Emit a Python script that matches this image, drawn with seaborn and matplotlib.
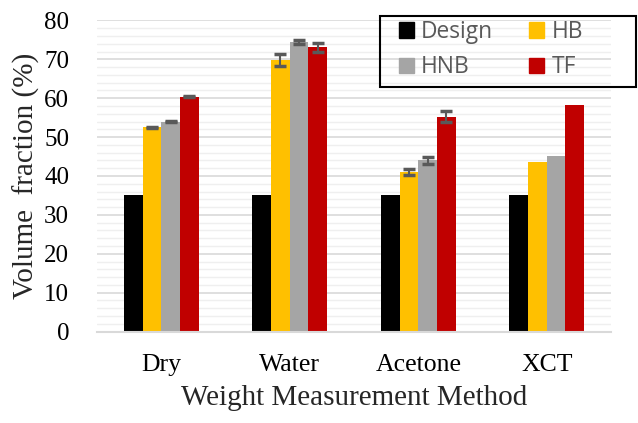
import pandas as pd
import matplotlib.pyplot as plt
import matplotlib.patches as mpatches
from matplotlib.ticker import MultipleLocator
import seaborn as sns

# data
methods = ["Dry", "Water", "Acetone", "XCT"]
series = ["Design", "HB", "HNB", "TF"]
design = [35, 35, 35, 35]
hb = [52.5, 69.8, 41.0, 43.5]
hnb = [54.0, 74.5, 44.0, 45.1]
tf = [60.4, 73.1, 55.3, 58.3]
hb_err = [0.2, 1.5, 0.7, 0]
hnb_err = [0.2, 0.6, 0.8, 0]
tf_err = [0.2, 1.1, 1.4, 0]
colors = ["#000000", "#FFC000", "#A5A5A5", "#C00000"]


def build_frame():
    rows = []
    for name, vals in zip(series, [design, hb, hnb, tf]):
        for m, v in zip(methods, vals):
            rows.append({"method": m, "series": name, "value": v})
    return pd.DataFrame(rows)


def main():
    df = build_frame()
    sns.set_style("white")

    W, H = 638, 423
    fig = plt.figure(figsize=(W / 100, H / 100), dpi=100)
    ax = fig.add_axes([97 / W, 91.5 / H, 514 / W, 311 / H])

    sns.barplot(data=df, x="method", y="value", hue="series",
                order=methods, hue_order=series, palette=colors,
                width=0.58, gap=0, linewidth=0, saturation=1,
                legend=False, ax=ax)

    # error bars on top of each bar container
    errs = [[0] * 4, hb_err, hnb_err, tf_err]
    vals = [design, hb, hnb, tf]
    for cont, v, e in zip(ax.containers, vals, errs):
        xs = [b.get_x() + b.get_width() / 2 for b in cont]
        xs_e = [x for x, er in zip(xs, e) if er > 0]
        vs_e = [y for y, er in zip(v, e) if er > 0]
        es = [er for er in e if er > 0]
        ax.errorbar(xs_e, vs_e, yerr=es, fmt="none", ecolor="#595959",
                    elinewidth=1.5, capsize=4.5, capthick=2.5, zorder=5)

    ax.set_xlim(-0.5, 3.5)
    ax.set_ylim(0, 80)
    ax.yaxis.set_major_locator(MultipleLocator(10))
    ax.yaxis.set_minor_locator(MultipleLocator(2))
    ax.grid(which="major", axis="y", color="#d9d9d9", linewidth=1.2)
    ax.grid(which="minor", axis="y", color="#efefef", linewidth=1.0)
    ax.set_axisbelow(True)
    for s in ["top", "right", "left"]:
        ax.spines[s].set_visible(False)
    ax.spines["bottom"].set_color("#d9d9d9")
    ax.spines["bottom"].set_linewidth(1.5)
    ax.tick_params(axis="both", which="both", length=0)

    serif = ["Liberation Serif", "DejaVu Serif"]
    ax.tick_params(axis="y", labelsize=18, pad=20)
    ax.tick_params(axis="x", labelsize=18.5, pad=16)
    for lab in ax.get_xticklabels() + ax.get_yticklabels():
        lab.set_family(serif)
        lab.set_color("#000000")

    ax.set_xlabel("Weight Measurement Method", fontsize=21, family=serif,
                  labelpad=7)
    ax.set_ylabel("Volume  fraction (%)", fontsize=21, family=serif,
                  labelpad=3)

    # legend laid out like the original: Design, HB / HNB, TF
    handles = {n: mpatches.Patch(color=c, label=n) for n, c in zip(series, colors)}
    order = ["Design", "HNB", "HB", "TF"]
    leg = fig.legend([handles[n] for n in order], order, ncol=2,
                     loc="upper left", bbox_to_anchor=(399 / W, 1 - 20 / H),
                     frameon=False, borderpad=0, borderaxespad=0,
                     prop={"family": "Open Sans", "size": 16.4},
                     handlelength=0.66, handleheight=0.66, handletextpad=0.3,
                     columnspacing=1.6, labelspacing=0.5)
    for t in leg.get_texts():
        t.set_color("#595959")
    # legend frame box, as in the original it is wider than its entries
    fig.patches.append(mpatches.Rectangle((380 / W, 1 - 87 / H), 256 / W, 71 / H,
                                          transform=fig.transFigure, fill=False,
                                          edgecolor="#000000", linewidth=1.5))

    fig.savefig("out.png", dpi=100)


if __name__ == "__main__":
    main()
